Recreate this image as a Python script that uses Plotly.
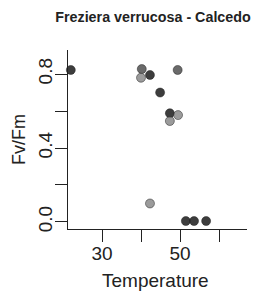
import plotly.graph_objects as go

temperature = [22.0, 40.2, 42.3, 40.0, 49.4, 44.9, 47.4, 49.5, 47.4, 42.3, 51.5, 53.6, 56.7]
fvfm = [0.822, 0.827, 0.795, 0.78, 0.822, 0.70, 0.588, 0.578, 0.546, 0.10, 0.005, 0.005, 0.005]
group = ["A", "B", "A", "C", "B", "A", "A", "C", "C", "C", "A", "A", "A"]

x_ticks = [30, 40, 50, 60]
x_ticklabels = ["30", "", "50", ""]
y_ticks = [0.0, 0.2, 0.4, 0.6, 0.8]
y_ticklabels = ["0.0", "", "0.4", "", "0.8"]

colors = {"A": "rgba(40,40,40,0.9)", "B": "rgba(80,80,80,0.85)", "C": "rgba(130,130,130,0.8)"}

# page body has an 8px default margin; figure is sized so it fits the 263x294 window
OFF = 8
W, H = 263 - OFF, 294 - OFF

fig = go.Figure()
fig.add_trace(go.Scatter(
    x=temperature, y=fvfm, mode="markers",
    marker=dict(size=9, color=[colors[g] for g in group],
                line=dict(width=0.8, color="rgba(30,30,30,0.6)")),
    cliponaxis=False, showlegend=False,
))

font = "Liberation Sans, Arial, sans-serif"
fig.update_layout(
    width=W, height=H,
    margin=dict(l=68 - OFF, r=16, t=50 - OFF, b=65, autoexpand=False),
    paper_bgcolor="white", plot_bgcolor="white",
    font=dict(family=font, color="#222", size=19),
    title=dict(text="<b>Freziera verrucosa - Calcedo</b>", x=(153 - OFF) / W, y=1 - (17 - OFF) / H,
               xref="container", yref="container", xanchor="center", yanchor="middle",
               font=dict(size=14.3, family=font, color="#222")),
    xaxis=dict(range=[21.28, 67.18], tickvals=x_ticks, ticktext=x_ticklabels,
               showgrid=False, zeroline=False, showline=True, linecolor="#222",
               linewidth=1.3, ticks="outside", ticklen=12, tickwidth=1.3,
               tickcolor="#222", tickfont=dict(size=19), automargin=False,
               ticklabelstandoff=-5),
    yaxis=dict(range=[-0.038, 0.930], tickvals=y_ticks, ticktext=y_ticklabels,
               showgrid=False, zeroline=False, showline=True, linecolor="#222",
               linewidth=1.3, ticks="outside", ticklen=12, tickwidth=1.3,
               tickcolor="#222", tickangle=-90, tickfont=dict(size=19), automargin=False,
               ticklabelstandoff=-5),
    annotations=[
        dict(text="Fv/Fm", x=(19-68)/179, y=(229-140)/179, xref="paper", yref="paper",
             textangle=-90, showarrow=False, font=dict(size=18), xanchor="center", yanchor="middle"),
        dict(text="Temperature", x=(155-68)/179, y=(229-280)/179, xref="paper", yref="paper",
             showarrow=False, font=dict(size=19), xanchor="center", yanchor="middle"),
    ],
)

fig.write_html("out.html")
